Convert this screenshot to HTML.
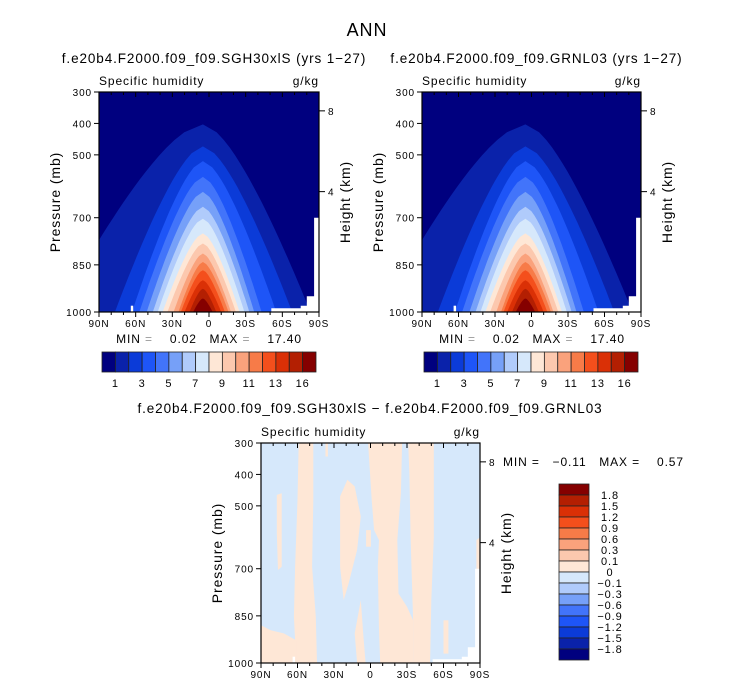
<!DOCTYPE html>
<html><head><meta charset="utf-8"><style>
body{margin:0;background:#fff;}
svg{display:block;font-family:"Liberation Sans",sans-serif;}
text{white-space:pre;}
.t{letter-spacing:0.9px;}
</style></head><body>
<svg id="fig" width="733" height="686" viewBox="0 0 733 686" xmlns="http://www.w3.org/2000/svg">
<text x="367" y="36" font-size="18" text-anchor="middle" fill="#000" class="t">ANN</text>
</svg>
<script>
// ---- data ----
const levelColors = ['#00007f','#0a22aa','#0b3bd8','#1e55f7','#4274fa','#76a0f8','#b0cbfb','#d6e8fb','#fee7d6','#fcc8ae','#faa27c','#f77b48','#f44f1c','#da3006','#b31f02','#850000'];
const topTickLabels = ['1','3','5','7','9','11','13','16'];
const levelPeakP = [403,473,520,570,618,665,703,750,782,814,841,867,899,926,957];
const levelFootN = [124,77,63,57,51,46,42,38,34,29,25,23,20,16,13];
const levelFootS = [-83,-68,-55,-43,-37,-33,-29,-25,-22,-18,-16,-13,-10,-6,-3];
const peakLat = 5;
const latTicks = [90,60,30,0,-30,-60,-90];
const latLabels = ['90N','60N','30N','0','30S','60S','90S'];
const presTicks = [300,400,500,700,850,1000];
const heightTicks = [{p:360,l:'8'},{p:617,l:'4'}];
const missing = [[[-51,988],[-75,988],[-75,980],[-80,980],[-80,950],[-86,950],[-86,700],[-90,700],[-90,1000],[-51,1000]],[[64,980],[62,980],[62,1000],[64,1000]]];
const diffBlobs = [
 [[59,300],[47,300],[47,481],[48,694],[45,853],[44,1000],[61,1000],[63,853],[62,694],[60,481]],
 [[90,880],[82,896],[71,906],[61,928],[61,1000],[90,1000]],
 [[77,465],[73,460],[73,694],[76,704],[77,587]],
 [[37,300],[35,300],[35,343],[37,343]],
 [[25,470],[19,417],[13,438],[8,534],[11,640],[18,747],[22,800],[25,694],[25,566]],
 [[8,800],[6,906],[4,1000],[11,1000],[13,906]],
 [[2,300],[-26,300],[-25,460],[-22,609],[-23,779],[-30,821],[-35,864],[-35,1000],[-8,1000],[-7,896],[-6,694],[-7,609],[-3,577],[-1,481]],
 [[-31,300],[-52,300],[-52,600],[-50,800],[-49,1000],[-35,1000],[-35,864],[-33,600],[-32,400]],
 [[3.6,577],[-0.3,577],[-0.3,630],[3.6,630]],
 [[-60,864],[-64,864],[-64,970],[-60,970]],
 [[-87,609],[-90,600],[-90,704],[-87,704]]
];
const diffColors = ['#850000','#b31f02','#da3006','#f44f1c','#f77b48','#faa27c','#fcc8ae','#fee7d6','#d6e8fb','#b0cbfb','#76a0f8','#4274fa','#1e55f7','#0b3bd8','#0a22aa','#00007f'];
const diffLabels = ['1.8','1.5','1.2','0.9','0.6','0.3','0.1','0','\u22120.1','\u22120.3','\u22120.6','\u22120.9','\u22121.2','\u22121.5','\u22121.8'];

const NS='http://www.w3.org/2000/svg';
const svg=document.getElementById('fig');
function mk(tag,attrs,parent){const e=document.createElementNS(NS,tag);for(const k in attrs)e.setAttribute(k,attrs[k]);(parent||svg).appendChild(e);return e;}
function txt(x,y,s,size,anchor,parent){const t=mk('text',{x:x,y:y,'font-size':size,'text-anchor':anchor||'start',fill:'#000','class':'t'},parent);t.textContent=s;return t;}

function panel(id,x0,y0,w,h,title,kind){
  const g=mk('g',{});
  
  
  const xs=lat=>x0+(90-lat)/180*w;
  const ys=p=>y0+(p-300)/700*h;
  const cid='clip-'+id;
  const cp=mk('clipPath',{id:cid},g);mk('rect',{x:x0,y:y0,width:w,height:h},cp);
  const pg=mk('g',{'clip-path':'url(#'+cid+')'},g);
  if(kind==='field'){
    const bg=mk('rect',{x:x0,y:y0,width:w,height:h,fill:levelColors[0]},pg);
    
    
    for(let k=0;k<levelPeakP.length;k++){
      const pk=levelPeakP[k];const pts=[];
      const steps=24;
      const shape=f=>0.35*f+0.65*Math.pow(f,0.55);
      for(let i=steps;i>=0;i--){const p=pk+(1000-pk)*i/steps;const f=shape((p-pk)/(1000-pk));pts.push([xs(peakLat+(levelFootN[k]-peakLat)*f),ys(p)]);}
      for(let i=1;i<=steps;i++){const p=pk+(1000-pk)*i/steps;const f=shape((p-pk)/(1000-pk));pts.push([xs(peakLat+(levelFootS[k]-peakLat)*f),ys(p)]);}
      const poly=mk('polygon',{points:pts.map(q=>q[0].toFixed(1)+','+q[1].toFixed(1)).join(' '),fill:levelColors[k+1]},pg);
      
      
    }
  } else {
    const bg=mk('rect',{x:x0,y:y0,width:w,height:h,fill:'#d6e8fb'},pg);
    
    
    diffBlobs.forEach((b,i)=>{
      const poly=mk('polygon',{points:b.map(q=>xs(q[0]).toFixed(1)+','+ys(q[1]).toFixed(1)).join(' '),fill:'#fee7d6'},pg);
      
      
    });
  }
  missing.forEach(m=>{
    const poly=mk('polygon',{points:m.map(q=>xs(q[0]).toFixed(1)+','+ys(q[1]).toFixed(1)).join(' '),fill:'#fff'},pg);
    
    
  });
  const fr=mk('rect',{x:x0,y:y0,width:w,height:h,fill:'none',stroke:'#000','stroke-width':1.2},g);
  
  
  for(let lat=90;lat>=-90;lat-=10){const X=xs(lat);const maj=(lat%30===0);mk('line',{x1:X,y1:y0,x2:X,y2:y0+(maj?5:3),stroke:'#000'},g);mk('line',{x1:X,y1:y0+h,x2:X,y2:y0+h+(maj?5:3),stroke:'#000'},g);}
  latTicks.forEach((lat,i)=>{const t=txt(xs(lat),y0+h+15,latLabels[i],10,'middle',g);});
  presTicks.forEach(p=>{mk('line',{x1:x0-5,y1:ys(p),x2:x0,y2:ys(p),stroke:'#000'},g);const t=txt(x0-7,ys(p)+4,String(p),10,'end',g);});
  heightTicks.forEach(o=>{mk('line',{x1:x0+w,y1:ys(o.p),x2:x0+w+6,y2:ys(o.p),stroke:'#000'},g);const t=txt(x0+w+9,ys(o.p)+4,o.l,10,'start',g);});
  const a=txt(x0,y0-7,'Specific humidity',12,'start',g);
  const u=txt(x0+w,y0-7,'g/kg',12,'end',g);
  const yl=txt(0,0,'Pressure (mb)',14,'middle',g);yl.setAttribute('transform','translate('+(x0-39)+','+(y0+h/2)+') rotate(-90)');
  const hl=txt(0,0,'Height (km)',14,'middle',g);hl.setAttribute('transform','translate('+(x0+w+31)+','+(y0+h/2)+') rotate(-90)');
  if(title){const t=txt(x0+w/2+5,y0-29,title,13.5,'middle',g);}
}
function hbar(x0,y0,w,h,name){
  const g=mk('g',{});
  
  
  const bw=w/levelColors.length;
  levelColors.forEach((c,i)=>{const r=mk('rect',{x:x0+i*bw,y:y0,width:bw,height:h,fill:c,stroke:'#222','stroke-width':0.8},g);});
  topTickLabels.forEach((l,i)=>{const t=txt(x0+(2*i+1)*bw,y0+h+15,l,11,'middle',g);});
}
function minmax(cx,y,mn,mx){
  const t=mk('text',{x:cx,y:y,'font-size':12,'text-anchor':'middle',fill:'#000','class':'t'});
  
  
  t.innerHTML='MIN <tspan fill="#999">=</tspan>    '+mn+'   MAX <tspan fill="#999">=</tspan>    '+mx;
}
panel('panel-sgh30',99,92,220,220,'f.e20b4.F2000.f09_f09.SGH30xlS (yrs 1\u221227)','field');
panel('panel-grnl03',422,92,219,220,'f.e20b4.F2000.f09_f09.GRNL03 (yrs 1\u221227)','field');
panel('panel-diff',261,443,219,220,null,'diff');
const bt=txt(370,413,'f.e20b4.F2000.f09_f09.SGH30xlS \u2212 f.e20b4.F2000.f09_f09.GRNL03',13.5,'middle');


minmax(209,343,'0.02','17.40');
minmax(532,343,'0.02','17.40');
hbar(102,352,214,20,'colorbar-left');
hbar(424,352,214,20,'colorbar-right');
const dm=txt(503,466,'MIN =   \u22120.11   MAX =    0.57',12,'start');


(function(){
  const g=mk('g',{});
  
  
  const x0=559,y0=484,w=30,bh=11;
  diffColors.forEach((c,i)=>{const r=mk('rect',{x:x0,y:y0+i*bh,width:w,height:bh,fill:c,stroke:'#222','stroke-width':0.8},g);});
  diffLabels.forEach((l,i)=>{const t=txt(x0+w+21,y0+(i+1)*bh+4,l,11,'middle',g);});
})();
</script>
</body></html>
